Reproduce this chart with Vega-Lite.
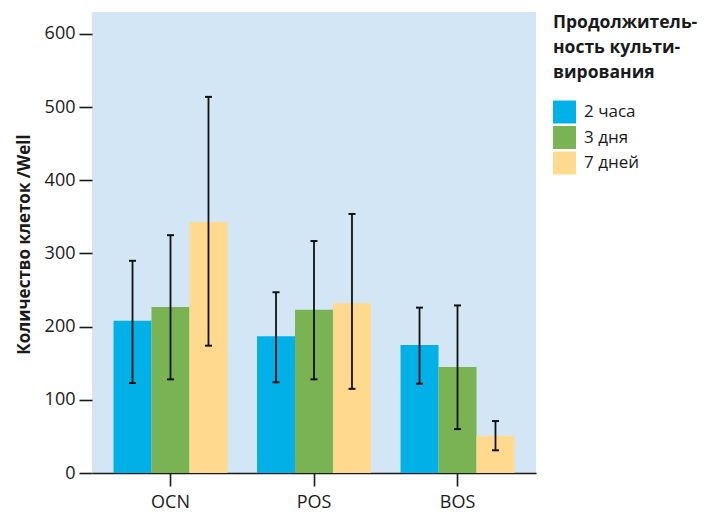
{
  "$schema": "https://vega.github.io/schema/vega-lite/v6.json",
  "width": 444,
  "height": 461,
  "autosize": {"type": "none"},
  "padding": {"left": 92, "top": 12, "right": 169, "bottom": 39},
  "background": "white",
  "config": {
    "font": "Open Sans",
    "view": {"fill": "#D3E6F5", "stroke": null},
    "axis": {"labelColor": "#1a1a1a", "titleColor": "#1a1a1a", "tickColor": "#1a1a1a", "domainColor": "#1a1a1a", "tickWidth": 1.6, "domainWidth": 1.6},
    "legend": {"labelColor": "#1a1a1a", "titleColor": "#1a1a1a"}
  },
  "data": {
    "values": [
      {"group": "OCN", "duration": "2 часа", "value": 208, "lo": 123, "hi": 290},
      {"group": "OCN", "duration": "3 дня", "value": 227, "lo": 128, "hi": 325},
      {"group": "OCN", "duration": "7 дней", "value": 343, "lo": 174, "hi": 514},
      {"group": "POS", "duration": "2 часа", "value": 187, "lo": 124, "hi": 247},
      {"group": "POS", "duration": "3 дня", "value": 223, "lo": 128, "hi": 317},
      {"group": "POS", "duration": "7 дней", "value": 232, "lo": 115, "hi": 354},
      {"group": "BOS", "duration": "2 часа", "value": 175, "lo": 122, "hi": 226},
      {"group": "BOS", "duration": "3 дня", "value": 145, "lo": 60, "hi": 229},
      {"group": "BOS", "duration": "7 дней", "value": 51, "lo": 31, "hi": 71}
    ]
  },
  "encoding": {
    "x": {
      "field": "group", "type": "nominal", "sort": ["OCN", "POS", "BOS"],
      "scale": {"paddingInner": 0.206, "paddingOuter": 0.15},
      "axis": {"title": null, "labelAngle": 0, "labelFontSize": 18, "labelPadding": 7, "tickSize": 13}
    },
    "xOffset": {
      "field": "duration", "type": "nominal", "sort": ["2 часа", "3 дня", "7 дней"],
      "scale": {"paddingInner": 0, "paddingOuter": 0}
    }
  },
  "layer": [
    {
      "mark": {"type": "bar"},
      "encoding": {
        "y": {
          "field": "value", "type": "quantitative", "title": "Количество клеток /Well",
          "scale": {"domain": [0, 630], "nice": false, "zero": true},
          "axis": {
            "values": [0, 100, 200, 300, 400, 500, 600], "domain": false, "grid": false,
            "tickSize": 13, "labelPadding": 4, "labelFontSize": 18,
            "titleFontSize": 17, "titleFontWeight": "bold",
            "titleX": -63, "titleY": 232, "titleBaseline": "alphabetic", "titleAngle": 270, "titleAlign": "center"
          }
        },
        "color": {
          "field": "duration", "type": "nominal",
          "scale": {"domain": ["2 часа", "3 дня", "7 дней"], "range": ["#00B0E6", "#7AB354", "#FFDA8E"]},
          "legend": {
            "orient": "none", "legendX": 461, "legendY": 2,
            "title": ["Продолжитель-", "ность культи-", "вирования"],
            "titleFontSize": 17.5, "titleFontWeight": "bold", "titleLineHeight": 25, "titleLimit": 300,
            "titlePadding": 19, "symbolType": "square", "symbolSize": 529, "symbolStrokeWidth": 0,
            "symbolOpacity": 1, "symbolOffset": 0, "labelOffset": 8, "rowPadding": 2.5,
            "labelFontSize": 17, "labelLimit": 200, "padding": 0
          }
        }
      }
    },
    {
      "mark": {"type": "rule", "color": "#111111", "strokeWidth": 1.8},
      "encoding": {
        "y": {"field": "lo", "type": "quantitative", "title": "Количество клеток /Well"},
        "y2": {"field": "hi"}
      }
    },
    {
      "mark": {"type": "tick", "color": "#111111", "size": 7, "thickness": 2, "opacity": 1},
      "encoding": {"y": {"field": "lo", "type": "quantitative", "title": "Количество клеток /Well"}}
    },
    {
      "mark": {"type": "tick", "color": "#111111", "size": 7, "thickness": 2, "opacity": 1},
      "encoding": {"y": {"field": "hi", "type": "quantitative", "title": "Количество клеток /Well"}}
    }
  ]
}
